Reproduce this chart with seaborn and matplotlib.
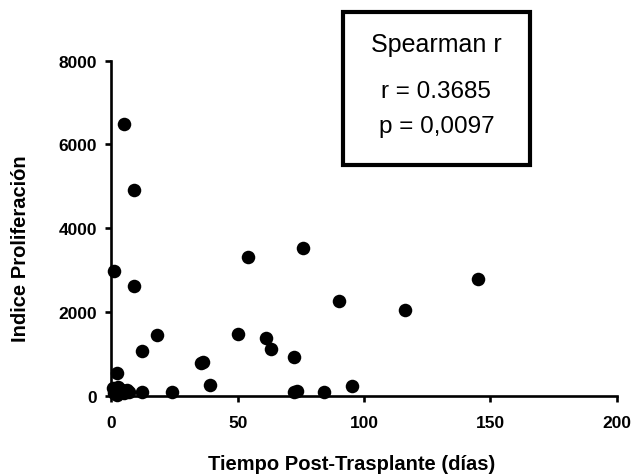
import matplotlib
matplotlib.use("Agg")
import matplotlib.pyplot as plt
import seaborn as sns
import pandas as pd
from matplotlib.patches import Rectangle

# Days after transplant and proliferation index
dias = [0.5, 1, 1.5, 2, 2.5, 3, 4, 5, 6, 7,
        2, 1, 5, 9, 9, 18, 12, 12, 24, 35.3,
        36.4, 39, 50.1, 54.2, 61.1, 63.2, 72.1, 72.3, 73.3, 76,
        84.2, 90.2, 95.2, 116.3, 145.2]
indice = [180, 60, 120, 30, 200, 90, 150, 60, 130, 100,
          540, 2976, 6493, 4921, 2619, 1452, 1079, 102, 102, 778,
          802, 270, 1476, 3302, 1381, 1127, 921, 102, 126, 3524,
          102, 2255, 231, 2040, 2786]

x_ticks = [0, 50, 100, 150, 200]
y_ticks = [0, 2000, 4000, 6000, 8000]

stats_title = "Spearman r"
stats_r = "r = 0.3685"
stats_p = "p = 0,0097"

df = pd.DataFrame({"dias": dias, "indice": indice})

sns.set_theme(style="ticks")
plt.rcParams["font.family"] = ["Liberation Sans", "DejaVu Sans"]
plt.rcParams["text.color"] = "black"
plt.rcParams["axes.labelcolor"] = "black"

fig = plt.figure(figsize=(6.37, 4.77), dpi=100)
ax = fig.add_axes([0.175, 0.168, 0.793, 0.703])

sns.scatterplot(data=df, x="dias", y="indice", color="black", s=95,
                linewidth=0, clip_on=False, zorder=3, ax=ax)

ax.set_xlim(0, 200)
ax.set_ylim(0, 8000)
ax.set_xticks(x_ticks)
ax.set_yticks(y_ticks)
sns.despine(ax=ax)
for side in ["left", "bottom"]:
    ax.spines[side].set_linewidth(1.9)
    ax.spines[side].set_color("black")
ax.tick_params(axis="both", length=4.5, width=1.9, color="black",
               labelsize=12.5, labelcolor="black")
ax.tick_params(axis="y", pad=6)
ax.tick_params(axis="x", pad=9)
for lab in ax.get_xticklabels() + ax.get_yticklabels():
    lab.set_fontweight("bold")

ax.set_xlabel("Tiempo Post-Trasplante (días)", fontsize=14.5, fontweight="bold", va="center")
ax.xaxis.set_label_coords(0.475, -0.203)
ax.set_ylabel("Indice Proliferación", fontsize=14.5, fontweight="bold", va="center")
ax.yaxis.set_label_coords(-0.181, 0.443)

fig.patches.append(Rectangle((0.5385, 0.652), 0.2936, 0.3208, transform=fig.transFigure,
                             fill=False, edgecolor="black", linewidth=3, figure=fig))
fig.text(0.6845, 0.9057, stats_title, fontsize=18, ha="center", va="center")
fig.text(0.6845, 0.807, stats_r, fontsize=17.5, ha="center", va="center")
fig.text(0.686, 0.734, stats_p, fontsize=17.5, ha="center", va="center")

fig.savefig("out.png", dpi=100)
